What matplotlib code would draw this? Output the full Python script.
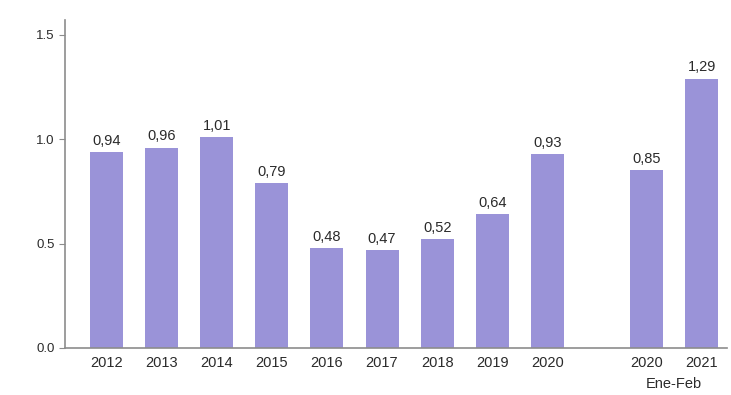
import matplotlib
matplotlib.use("Agg")
import matplotlib.pyplot as plt

plt.rcParams["font.family"] = ["Liberation Sans", "DejaVu Sans"]

# === Data ===
categories = ["2012", "2013", "2014", "2015", "2016", "2017", "2018", "2019", "2020",
              "2020", "2021"]
values = [0.94, 0.96, 1.01, 0.79, 0.48, 0.47, 0.52, 0.64, 0.93, 0.85, 1.29]
positions = [0, 1, 2, 3, 4, 5, 6, 7, 8, 9.8, 10.8]
yticks = [0.0, 0.5, 1.0, 1.5]
subgroup_label = "Ene-Feb"

BAR_COLOR = "#9a93d8"
AXIS_COLOR = "#8c8c8c"
TEXT_COLOR = "#2a2a2a"


def main():
    fig = plt.figure(figsize=(7.31, 3.95), dpi=100)
    ax = fig.add_axes([0.089, 0.119, 0.905, 0.83])

    ax.bar(positions, values, width=0.6, color=BAR_COLOR, zorder=2)

    # value labels with comma decimals
    for x, v in zip(positions, values):
        ax.text(x, v + 0.02, f"{v:.2f}".replace(".", ","), ha="center", va="bottom",
                fontsize=10.5, color=TEXT_COLOR)

    ax.set_xlim(-0.75, 11.25)
    ax.set_ylim(0, 1.57)
    ax.set_yticks(yticks)
    ax.set_yticklabels([f"{t:.1f}" for t in yticks])
    ax.set_xticks(positions)
    ax.set_xticklabels(categories)

    ax.tick_params(axis="y", length=4, color=AXIS_COLOR, labelsize=9.5, labelcolor=TEXT_COLOR)
    ax.tick_params(axis="x", length=0, pad=6, labelsize=10.5, labelcolor=TEXT_COLOR)

    for side in ["top", "right"]:
        ax.spines[side].set_visible(False)
    for side in ["left", "bottom"]:
        ax.spines[side].set_color(AXIS_COLOR)
        ax.spines[side].set_linewidth(1.2)

    # sub-label under the last pair of bars
    mid = (positions[-2] + positions[-1]) / 2
    ax.annotate(subgroup_label, xy=(mid, 0), xycoords=("data", "axes fraction"),
                xytext=(0, -21), textcoords="offset points", ha="center", va="top",
                fontsize=10.5, color=TEXT_COLOR)

    fig.savefig("out.png", dpi=100)


if __name__ == "__main__":
    main()
